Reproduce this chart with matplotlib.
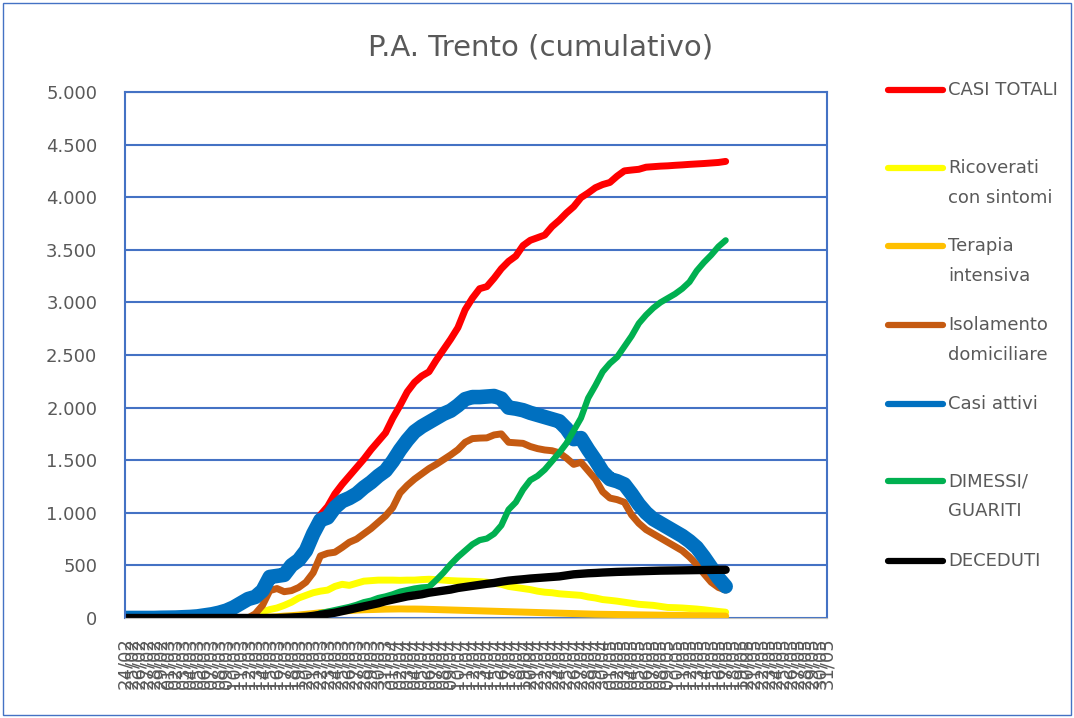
import numpy as np
import pandas as pd
import matplotlib
matplotlib.use("Agg")
import matplotlib.pyplot as plt
from matplotlib.lines import Line2D
from matplotlib.patches import Rectangle
from matplotlib.ticker import FuncFormatter, MultipleLocator

# Category axis: every day from 24/02 to 31/05
dates = pd.date_range("2020-02-24", "2020-05-31", freq="D")
date_labels = [d.strftime("%d/%m") for d in dates]

# Values, one per day from 24/02 to 17/05
casi_totali = [
    0, 0, 0, 0, 0, 2, 3, 4, 7, 10, 15, 25, 35, 50, 70, 100, 140, 180, 200, 262,
    392, 402, 414, 505, 560, 660, 825, 980, 1060, 1180,
    1270, 1350, 1430, 1510, 1600, 1680, 1760, 1900, 2020, 2150,
    2240, 2300, 2340, 2450, 2550, 2650, 2760, 2930, 3040, 3130,
    3150, 3230, 3320, 3390, 3440, 3540, 3590, 3615, 3640, 3720,
    3780, 3850, 3910, 3995, 4040, 4090, 4120, 4140, 4200, 4250,
    4258, 4265, 4285, 4290, 4295, 4298, 4303, 4307, 4312, 4316,
    4320, 4325, 4330, 4340,
]
ricoverati = [
    0, 0, 0, 0, 0, 0, 0, 0, 0, 0, 0, 0, 0, 0, 0, 0, 0, 0, 30, 60,
    80, 95, 120, 150, 190, 215, 240, 255, 265, 300,
    320, 310, 330, 350, 355, 360, 360, 360, 358, 360,
    360, 365, 368, 365, 360, 355, 352, 350, 348, 345,
    340, 330, 320, 300, 290, 280, 270, 255, 245, 240,
    230, 225, 220, 215, 200, 190, 175, 168, 160, 150,
    140, 130, 125, 120, 110, 100, 98, 95, 90, 85,
    78, 70, 62, 55,
]
terapia_intensiva = [
    0, 0, 0, 0, 0, 0, 0, 0, 0, 0, 0, 0, 0, 0, 0, 0, 0, 0, 0, 5,
    8, 12, 18, 22, 28, 35, 42, 50, 55, 60,
    65, 70, 75, 78, 80, 82, 84, 85, 86, 85,
    85, 84, 82, 80, 78, 76, 74, 72, 70, 68,
    66, 64, 62, 60, 58, 56, 54, 52, 50, 48,
    46, 44, 42, 40, 38, 36, 35, 34, 33, 32,
    31, 30, 29, 28, 27, 26, 25, 24, 23, 22,
    21, 20, 19, 18,
]
isolamento = [
    0, 0, 0, 0, 0, 0, 0, 0, 0, 0, 0, 0, 0, 0, 0, 0, 0, 0, 40, 120,
    260, 280, 250, 260, 290, 340, 430, 590, 615, 625,
    670, 720, 750, 800, 850, 910, 970, 1050, 1188, 1260,
    1320, 1370, 1420, 1460, 1505, 1550, 1600, 1670, 1705, 1710,
    1712, 1740, 1750, 1670, 1665, 1660, 1630, 1610, 1597, 1590,
    1570, 1520, 1460, 1480, 1400, 1320, 1200, 1140, 1125, 1100,
    980, 900, 840, 800, 760, 720, 680, 640, 580, 510,
    420, 340, 290, 265,
]
casi_attivi = [
    0, 0, 0, 0, 0, 2, 3, 4, 7, 10, 15, 25, 35, 50, 70, 100, 140, 180, 200, 260,
    390, 400, 410, 500, 550, 640, 800, 930, 955, 1050,
    1110, 1140, 1180, 1240, 1290, 1350, 1400, 1490, 1597, 1690,
    1770, 1820, 1860, 1900, 1940, 1970, 2020, 2080, 2100, 2100,
    2105, 2110, 2085, 2000, 1990, 1975, 1950, 1930, 1910, 1890,
    1870, 1800, 1700, 1710, 1600, 1500, 1390, 1320, 1300, 1270,
    1180, 1080, 1000, 940, 900, 860, 820, 780, 730, 670,
    580, 480, 380, 300,
]
dimessi_guariti = [
    0, 0, 0, 0, 0, 0, 0, 0, 0, 0, 0, 0, 0, 0, 0, 0, 0, 0, 0, 0,
    0, 0, 0, 0, 0, 5, 20, 45, 60, 75,
    90, 105, 125, 150, 165, 190, 205, 225, 250, 265,
    280, 290, 295, 360, 430, 510, 580, 640, 700, 740,
    755, 800, 880, 1030, 1100, 1220, 1310, 1350, 1410, 1490,
    1570, 1660, 1780, 1900, 2090, 2210, 2340, 2420, 2480, 2580,
    2680, 2800, 2880, 2947, 3000, 3040, 3080, 3130, 3194, 3300,
    3380, 3450, 3530, 3590,
]
deceduti = [
    0, 0, 0, 0, 0, 0, 0, 0, 0, 0, 0, 0, 0, 0, 0, 0, 0, 0, 0, 0,
    0, 0, 2, 5, 8, 12, 20, 30, 40, 50,
    65, 80, 95, 110, 125, 140, 160, 175, 190, 205,
    215, 225, 240, 250, 260, 270, 285, 295, 305, 315,
    325, 333, 345, 355, 362, 368, 375, 380, 385, 390,
    395, 405, 415, 420, 425, 428, 432, 435, 438, 440,
    442, 444, 446, 448, 450, 451, 452, 453, 454, 455,
    456, 457, 458, 458,
]

series = [
    ("CASI TOTALI", casi_totali, "#FF0000", 5),
    ("Ricoverati\ncon sintomi", ricoverati, "#FFFF00", 5),
    ("Terapia\nintensiva", terapia_intensiva, "#FFC000", 5),
    ("Isolamento\ndomiciliare", isolamento, "#C55A11", 5),
    ("Casi attivi", casi_attivi, "#0070C0", 10.5),
    ("DIMESSI/\nGUARITI", dimessi_guariti, "#00B050", 4.5),
    ("DECEDUTI", deceduti, "#000000", 6),
]

grey = "#595959"
blue_axis = "#4472C4"

fig = plt.figure(figsize=(10.74, 7.18), dpi=100)
ax = fig.add_axes([0.1164, 0.1393, 0.6536, 0.7326])

days = np.arange(len(casi_totali))
for name, vals, col, lw in series:
    ax.plot(days, vals, color=col, lw=lw, solid_capstyle="round",
            solid_joinstyle="round")

ax.set_xlim(0, len(date_labels) - 1)
ax.set_ylim(0, 5000)
ax.yaxis.set_major_locator(MultipleLocator(500))
ax.yaxis.set_major_formatter(FuncFormatter(lambda v, p: f"{int(v):,}".replace(",", ".")))
ax.grid(axis="y", color=blue_axis, lw=1.5)
ax.set_axisbelow(True)
for s in ["left", "right", "top"]:
    ax.spines[s].set_color(blue_axis)
    ax.spines[s].set_linewidth(1.5)
ax.spines["bottom"].set_color("#BFBFBF")

ax.set_xticks(np.arange(len(date_labels)))
ax.set_xticklabels(date_labels, rotation=90, fontsize=13, color=grey)
ax.tick_params(axis="x", length=0, pad=14)
ax.tick_params(axis="y", length=0, pad=20, labelsize=13, labelcolor=grey)

fig.text(0.503, 0.934, "P.A. Trento (cumulativo)", ha="center", va="center",
         fontsize=21, color=grey)

# legend on the right
legend_y = [90, 168, 246, 325, 404, 481, 561]
H, W = 718, 1074
for (name, vals, col, lw), ly in zip(series, legend_y):
    yf = 1 - ly / H
    fig.add_artist(Line2D([888 / W, 943 / W], [yf, yf], color=col, lw=4.5,
                          solid_capstyle="round"))
    for k, line in enumerate(name.split("\n")):
        fig.text(948 / W, 1 - (ly + 30 * k) / H, line, ha="left", va="center",
                 fontsize=13, color=grey)

fig.add_artist(Rectangle((3 / W, 3 / H), 1 - 6 / W, 1 - 6 / H, fill=False,
                         edgecolor=blue_axis, lw=1, transform=fig.transFigure))

fig.savefig("out.png", dpi=100)
